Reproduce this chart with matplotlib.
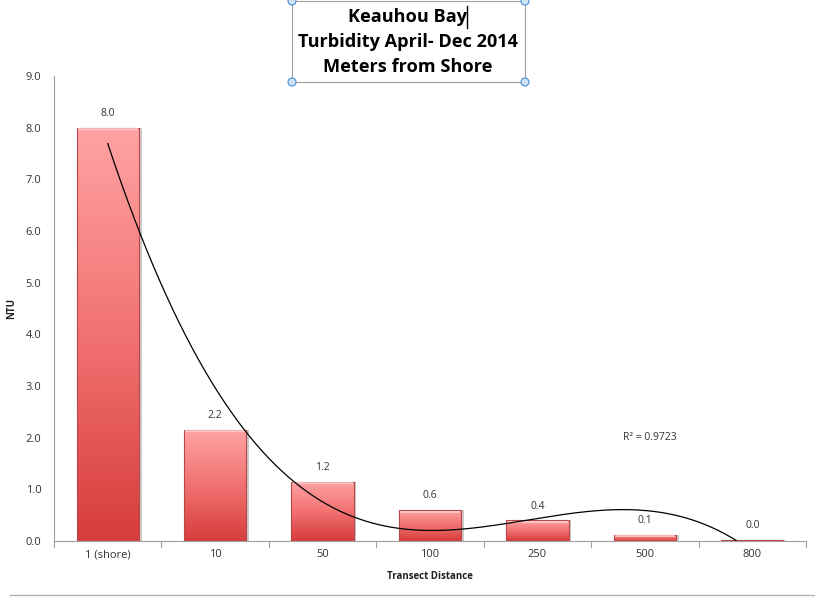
import numpy as np
import matplotlib
matplotlib.use("Agg")
import matplotlib.pyplot as plt
from matplotlib.patches import Rectangle
from matplotlib.colors import LinearSegmentedColormap

categories = ["1 (shore)", "10", "50", "100", "250", "500", "800"]
ntu = [8.0, 2.15, 1.15, 0.6, 0.4, 0.12, 0.02]
labels = ["8.0", "2.2", "1.2", "0.6", "0.4", "0.1", "0.0"]
yticks = [0, 1, 2, 3, 4, 5, 6, 7, 8, 9]
title_lines = ["Keauhou Bay", "Turbidity April- Dec 2014", "Meters from Shore"]
r2_text = "R² = 0.9723"

plt.rcParams['font.family'] = ['Open Sans', 'DejaVu Sans']
fig = plt.figure(figsize=(8.15, 5.97), dpi=100)
ax = fig.add_axes([0.0663, 0.0938, 0.9227, 0.779])

x = np.arange(1, len(categories) + 1)
width = 0.58
cmap = LinearSegmentedColormap.from_list("g", ["#D63C3C", "#F27272", "#FFA3A3"])
grad = np.linspace(0, 1, 256).reshape(-1, 1)
for xi, v in zip(x, ntu):
    l = xi - width / 2
    rect = Rectangle((l, 0), width, v, facecolor="none", edgecolor="#B84848", lw=0.8, zorder=3)
    ax.add_patch(rect)
    im = ax.imshow(grad, cmap=cmap, aspect="auto", origin="lower",
                   extent=[l, l + width, 0, max(v, 0.001)], zorder=2)
    im.set_clip_path(rect)
    ax.add_patch(Rectangle((l + width, 0), 0.025, v, facecolor="#999999", alpha=0.5, lw=0, zorder=1))
    if v > 0.05:
        ax.add_patch(Rectangle((l + 0.01, v - min(0.05, v * 0.3)), width - 0.02, min(0.04, v * 0.2),
                               facecolor="#FFD0D0", alpha=0.8, lw=0, zorder=4))
for xi, v, t in zip(x, ntu, labels):
    ax.text(xi, v + 0.17, t, ha="center", va="bottom", fontsize=7.5, color="#333333", zorder=5)

# polynomial (order 3) trendline
coef = np.polyfit(x, ntu, 3)
xs = np.linspace(1, 7, 400)
ys = np.polyval(coef, xs)
mask = ys >= 0
ax.plot(xs[mask], ys[mask], color="black", lw=0.9, zorder=6)
ax.text(6.05, 2.0, r2_text, ha="center", va="center", fontsize=7.5, color="#333333")

ax.set_xlim(0.5, 7.5)
ax.set_ylim(0, 9)
ax.set_yticks(yticks)
ax.set_yticklabels([f"{t:.1f}" for t in yticks], fontsize=8, color="#333333")
ax.set_xticks(x)
ax.set_xticklabels(categories, fontsize=8, color="#333333")
ax.tick_params(axis="x", length=0, pad=6)
ax.tick_params(axis="y", length=0, pad=9)
for b in np.arange(0.5, 8, 1):
    ax.plot([b, b], [0, -0.12], color="#A0A0A0", lw=0.8, clip_on=False)
for s in ["top", "right"]:
    ax.spines[s].set_visible(False)
ax.spines["left"].set_color("#A0A0A0")
ax.spines["bottom"].set_color("#A0A0A0")
ax.set_ylabel("NTU", fontsize=7, fontweight="bold", color="#202020", labelpad=6)
ax.set_xlabel("Transect Distance", fontsize=7, fontweight="bold", color="#202020", labelpad=8)

# title text box
bx0, bx1, by0, by1 = 292 / 815, 525 / 815, 1 - 82 / 597, 1 - 1 / 597
fig.add_artist(Rectangle((bx0, by0), bx1 - bx0, by1 - by0, transform=fig.transFigure,
                         facecolor="none", edgecolor="#A0A0A0", lw=0.8))
for cx, cy in [(bx0, by0), (bx1, by0), (bx0, by1), (bx1, by1)]:
    fig.add_artist(matplotlib.patches.Ellipse((cx, cy), 8 / 815, 8 / 597, transform=fig.transFigure,
                                              facecolor="#CFE3F7", edgecolor="#4A90D9", lw=0.8))
for i, t in enumerate(title_lines):
    fig.text(408 / 815, 1 - (17 + 25 * i) / 597, t, ha="center", va="center",
             fontsize=13.1, fontweight="bold", color="black")
fig.add_artist(plt.Line2D([467 / 815, 467 / 815], [1 - 6 / 597, 1 - 28 / 597],
                          transform=fig.transFigure, color="black", lw=1))
fig.add_artist(plt.Line2D([10 / 815, 1], [1 - 595 / 597, 1 - 595 / 597],
                          transform=fig.transFigure, color="#B0B0B0", lw=1))

fig.savefig("out.png", dpi=100)
